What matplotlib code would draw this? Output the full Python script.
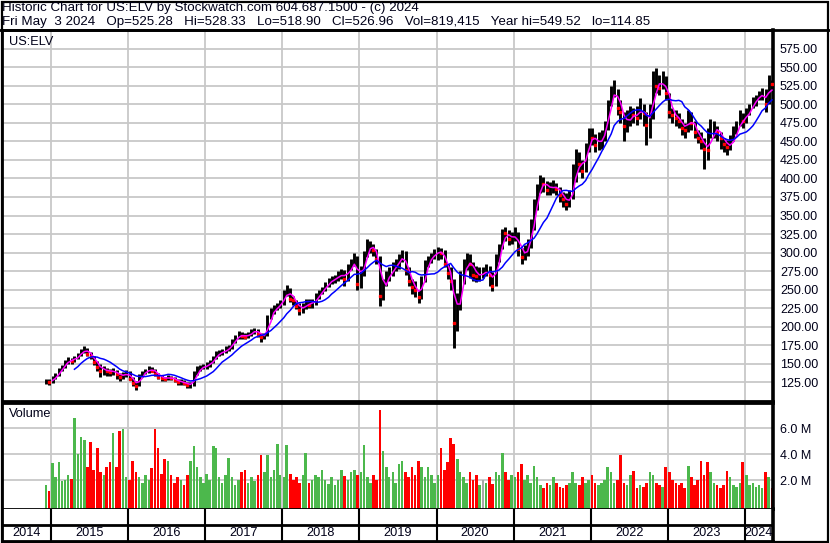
import numpy as np
import pandas as pd
import matplotlib
matplotlib.use("Agg")
import matplotlib.pyplot as plt
from matplotlib.patches import Rectangle
from matplotlib.lines import Line2D

# ---------------- data (semi-monthly) ----------------
start_date = "2014-12-01"

close_2014 = [127, 126]
high_2014 = [130, 129]
low_2014 = [123, 122]

close_2015 = [130, 136, 142, 146, 152, 157, 154, 158, 162, 168, 170, 164,
              160, 152, 146, 141, 143, 140, 139, 141, 136, 132, 136, 139]
high_2015 = [134, 138, 145, 149, 155, 159, 158, 161, 165, 170, 174, 171,
             166, 160, 154, 150, 147, 145, 143, 144, 142, 138, 139, 142]
low_2015 = [124, 129, 134, 140, 145, 150, 150, 152, 156, 161, 165, 161,
            156, 149, 140, 132, 135, 134, 134, 135, 130, 127, 129, 133]

close_2016 = [130, 124, 120, 134, 138, 140, 144, 141, 137, 132, 131, 130,
              132, 131, 128, 125, 126, 124, 121, 122, 136, 143, 145, 147]
high_2016 = [140, 132, 127, 136, 141, 143, 147, 146, 143, 138, 135, 133,
             135, 134, 133, 130, 130, 128, 126, 125, 140, 147, 149, 150]
low_2016 = [128, 120, 115, 120, 132, 136, 138, 139, 134, 129, 127, 127,
            128, 128, 126, 122, 122, 121, 118, 117, 120, 135, 141, 143]

close_2017 = [148, 152, 158, 164, 165, 166, 170, 172, 180, 186, 190, 188,
              186, 190, 194, 196, 190, 186, 188, 212, 220, 225, 228, 232]
high_2017 = [152, 155, 161, 167, 169, 170, 174, 176, 184, 189, 194, 193,
             191, 193, 197, 199, 197, 192, 192, 216, 225, 229, 232, 236]
low_2017 = [143, 146, 151, 156, 161, 162, 165, 167, 170, 178, 184, 183,
            183, 185, 188, 190, 186, 180, 183, 187, 210, 217, 222, 225]

close_2018 = [245, 250, 238, 236, 228, 222, 226, 234, 230, 232, 240, 246,
              250, 256, 262, 264, 265, 270, 272, 265, 278, 285, 290, 258]
high_2018 = [250, 256, 252, 242, 236, 232, 232, 238, 238, 237, 246, 250,
             254, 260, 266, 268, 270, 275, 278, 276, 284, 292, 300, 296]
low_2018 = [230, 242, 234, 230, 224, 216, 218, 224, 225, 226, 230, 238,
            244, 248, 254, 258, 259, 262, 264, 255, 262, 276, 282, 250]

close_2019 = [275, 298, 308, 310, 303, 292, 242, 258, 268, 272, 280, 285,
              292, 298, 276, 262, 253, 250, 240, 262, 285, 290, 296, 300]
high_2019 = [282, 302, 318, 316, 312, 305, 296, 264, 275, 280, 287, 292,
             298, 304, 302, 280, 265, 262, 250, 268, 290, 295, 300, 305]
low_2019 = [252, 268, 294, 300, 295, 285, 228, 236, 255, 262, 268, 275,
            278, 288, 270, 255, 244, 240, 232, 238, 260, 280, 286, 292]

close_2020 = [302, 300, 285, 272, 262, 205, 225, 262, 280, 292, 285, 270,
              268, 272, 272, 276, 270, 255, 290, 305, 328, 326, 318, 320]
high_2020 = [308, 306, 303, 285, 280, 265, 245, 275, 292, 300, 298, 288,
             282, 280, 280, 284, 282, 274, 298, 312, 332, 335, 330, 328]
low_2020 = [290, 292, 280, 265, 250, 172, 195, 222, 258, 276, 266, 262,
            260, 262, 266, 268, 255, 248, 255, 288, 305, 315, 310, 312]

close_2021 = [325, 305, 294, 300, 310, 335, 362, 385, 398, 392, 385, 388,
              390, 386, 378, 372, 365, 375, 395, 430, 420, 410, 440, 462]
high_2021 = [334, 328, 306, 310, 318, 345, 372, 392, 405, 402, 396, 395,
             398, 394, 388, 382, 380, 385, 420, 440, 435, 425, 448, 468]
low_2021 = [315, 295, 285, 290, 296, 306, 330, 358, 380, 382, 378, 378,
            380, 378, 368, 362, 358, 362, 372, 395, 408, 400, 408, 435]

close_2022 = [455, 445, 450, 455, 468, 500, 515, 522, 495, 490, 470, 478,
              488, 485, 482, 500, 488, 472, 485, 535, 525, 522, 535, 515]
high_2022 = [468, 460, 462, 465, 478, 505, 525, 533, 520, 505, 490, 492,
             498, 495, 498, 508, 500, 490, 500, 545, 549, 540, 545, 538]
low_2022 = [445, 435, 438, 440, 450, 465, 498, 510, 485, 475, 450, 462,
            470, 475, 472, 480, 470, 445, 455, 480, 515, 512, 520, 505]

close_2023 = [490, 485, 482, 478, 468, 465, 485, 475, 462, 455, 450, 440,
              438, 465, 470, 462, 455, 447, 442, 445, 460, 468, 482, 478]
high_2023 = [515, 495, 492, 488, 480, 475, 492, 490, 478, 465, 462, 455,
             468, 480, 478, 470, 462, 455, 452, 458, 470, 478, 492, 488]
low_2023 = [482, 475, 470, 468, 458, 455, 462, 465, 455, 448, 440, 412,
            425, 455, 455, 450, 440, 435, 432, 438, 450, 460, 470, 468]

close_2024 = [488, 495, 505, 508, 512, 515, 500, 530, 527]
high_2024 = [495, 500, 510, 513, 518, 522, 520, 540, 532]
low_2024 = [475, 485, 495, 498, 505, 505, 490, 500, 519]

# volume in millions of shares
vol_2014 = [1.6, 1.2]
vol_2015 = [3.3, 2.2, 3.4, 1.9, 2.0, 2.4, 2.1, 6.8, 4.0, 5.3, 5.1, 3.0,
            4.9, 2.8, 4.5, 2.6, 2.4, 3.0, 3.4, 5.6, 3.0, 5.8, 5.9, 2.2]
vol_2016 = [2.0, 3.5, 2.6, 2.2, 1.8, 2.4, 2.0, 2.9, 5.9, 4.5, 2.5, 3.6,
            3.5, 2.4, 1.8, 2.2, 2.0, 1.6, 2.4, 3.5, 4.6, 3.0, 2.2, 1.8]
vol_2017 = [2.5, 2.0, 4.6, 4.5, 2.2, 1.8, 2.4, 3.7, 2.2, 1.6, 2.0, 2.6,
            2.8, 1.8, 2.2, 1.9, 2.4, 3.9, 2.6, 3.9, 2.2, 2.8, 4.8, 2.4]
vol_2018 = [2.2, 4.7, 2.5, 2.0, 2.2, 1.8, 2.4, 4.1, 1.8, 2.0, 2.4, 2.2,
            2.8, 2.0, 1.7, 2.2, 1.6, 2.0, 2.8, 2.3, 2.0, 2.6, 2.8, 2.4]
vol_2019 = [2.6, 4.7, 2.2, 1.8, 2.4, 2.0, 7.4, 4.2, 3.0, 2.2, 2.6, 1.8,
            3.2, 3.5, 2.6, 2.2, 3.0, 2.4, 3.5, 3.0, 2.2, 3.0, 2.4, 1.8]
vol_2020 = [2.4, 4.5, 2.8, 3.4, 5.2, 4.8, 3.6, 2.6, 2.2, 1.8, 2.6, 2.0,
            2.4, 1.6, 2.0, 1.8, 2.2, 1.7, 2.6, 2.4, 4.1, 2.6, 2.0, 2.4]
vol_2021 = [2.2, 2.6, 3.2, 2.0, 2.4, 1.8, 3.1, 2.2, 1.6, 1.4, 1.8, 1.6,
            2.2, 1.8, 1.5, 1.4, 1.6, 1.8, 2.6, 1.8, 1.6, 2.2, 1.8, 2.0]
vol_2022 = [2.4, 1.8, 1.6, 1.8, 2.0, 3.0, 2.6, 1.8, 2.0, 3.9, 1.8, 1.6,
            2.4, 2.7, 1.4, 1.6, 1.5, 1.8, 2.6, 2.4, 1.8, 1.6, 1.5, 3.0]
vol_2023 = [2.6, 2.0, 1.8, 1.6, 1.8, 1.4, 3.1, 2.2, 1.6, 2.0, 3.5, 2.4,
            3.4, 2.6, 1.8, 1.6, 1.4, 1.6, 2.7, 2.2, 1.6, 1.5, 1.8, 3.4]
vol_2024 = [2.4, 1.6, 1.8, 1.5, 1.6, 1.4, 2.6, 2.2, 1.4]

price_ticks = [125, 150, 175, 200, 225, 250, 275, 300, 325, 350, 375, 400,
               425, 450, 475, 500, 525, 550, 575]
vol_ticks = [2, 4, 6]
year_labels = ["2014", "2015", "2016", "2017", "2018", "2019", "2020",
               "2021", "2022", "2023", "2024"]

title_line1 = "Historic Chart for US:ELV by Stockwatch.com 604.687.1500 - (c) 2024"
title_line2 = ("Fri May  3 2024   Op=525.28   Hi=528.33   Lo=518.90   Cl=526.96   "
               "Vol=819,415   Year hi=549.52   lo=114.85")

# ---------------- assemble ----------------
close = np.array(close_2014 + close_2015 + close_2016 + close_2017 + close_2018 +
                 close_2019 + close_2020 + close_2021 + close_2022 + close_2023 +
                 close_2024, dtype=float)
high = np.array(high_2014 + high_2015 + high_2016 + high_2017 + high_2018 +
                high_2019 + high_2020 + high_2021 + high_2022 + high_2023 +
                high_2024, dtype=float)
low = np.array(low_2014 + low_2015 + low_2016 + low_2017 + low_2018 +
               low_2019 + low_2020 + low_2021 + low_2022 + low_2023 +
               low_2024, dtype=float)
vol = np.array(vol_2014 + vol_2015 + vol_2016 + vol_2017 + vol_2018 +
               vol_2019 + vol_2020 + vol_2021 + vol_2022 + vol_2023 +
               vol_2024, dtype=float)

n = len(close)
dates = pd.date_range(start_date, periods=n, freq="SMS")
xdec = np.array([d.year + (d.dayofyear - 1 + 7) / 365.25 for d in dates])

s = pd.Series(close)
ma_short = s.rolling(3).mean().values
ma_long = s.rolling(10).mean().values

chg = np.diff(close, prepend=close[0] - 1)
vol_colors = np.where(chg > 0, "#4cb84c", np.where(chg < 0, "#ff0000", "#a8a8a8"))
down = chg < 0

# ---------------- figure ----------------
W, H = 830, 543
fig = plt.figure(figsize=(W / 100, H / 100), dpi=100)
fig.patch.set_facecolor("white")
plt.rcParams["font.family"] = ["Liberation Sans", "DejaVu Sans"]
TXT = "#000018"
FS = 9.2
FS_TICK = 9.0
FS_HEAD = 9.6

def fax(x0, y0, x1, y1):
    return fig.add_axes([x0 / W, 1 - y1 / H, (x1 - x0) / W, (y1 - y0) / H])

X0, X1 = 2014.364, 2024.364
grid_c = "#c8c8c8"

# price panel
ax = fax(2, 30, 773, 401)
ax.set_xlim(X0, X1)
ax.set_ylim(100, 600)
for p in price_ticks:
    ax.axhline(p, color=grid_c, lw=1.3, zorder=0)
for yr in range(2015, 2025):
    ax.axvline(yr, color=grid_c, lw=1.3, zorder=0)
ax.vlines(xdec, low, high, color="black", lw=2.1, zorder=2)
ax.plot(xdec[down], close[down], linestyle="none", marker="s", ms=1.6,
        mec="#ff0000", mfc="#ff0000", zorder=3)
ax.plot(xdec, ma_short, color="#ff00ff", lw=1.1, zorder=4)
ax.plot(xdec, ma_long, color="#0000ff", lw=1.1, zorder=5)
ax.yaxis.tick_right()
ax.set_yticks(price_ticks)
ax.set_yticklabels([f"{p:.2f}" for p in price_ticks], fontsize=FS_TICK, color=TXT)
ax.tick_params(axis="y", length=0, pad=5)
ax.set_xticks([])
for sp in ax.spines.values():
    sp.set_linewidth(2)
ax.spines["right"].set_linewidth(2.6)
ax.text(0.009, 0.968, "US:ELV", transform=ax.transAxes, fontsize=FS, color=TXT,
        va="center", ha="left")

# volume panel
axv = fax(2, 403, 773, 509)
axv.set_xlim(X0, X1)
vbot = -0.22
axv.set_ylim(vbot, 7.92)
for v in vol_ticks:
    axv.axhline(v, color=grid_c, lw=1.3, zorder=0)
for yr in range(2015, 2025):
    axv.axvline(yr, color=grid_c, lw=1.3, zorder=0)
axv.bar(xdec, vol - vbot, bottom=vbot, width=(1 / 24) * 0.8, color=vol_colors,
        linewidth=0, zorder=2)
axv.yaxis.tick_right()
axv.set_yticks(vol_ticks)
axv.set_yticklabels([f"{v:.1f} M" for v in vol_ticks], fontsize=FS_TICK, color=TXT)
axv.tick_params(axis="y", length=0, pad=5)
axv.set_xticks([])
for sp in axv.spines.values():
    sp.set_linewidth(2)
axv.spines["right"].set_linewidth(2.6)
axv.text(0.009, 0.9, "Volume", transform=axv.transAxes, fontsize=FS, color=TXT,
         va="center", ha="left")

# year strip
axy = fax(2, 509, 773, 541)
axy.set_xlim(X0, X1)
axy.set_ylim(0, 2)
axy.axhline(1, color="black", lw=2)
for yr in range(2015, 2025):
    axy.axvline(yr, color="black", lw=1.5)
bounds = [X0] + list(range(2015, 2025)) + [X1]
for i, lab in enumerate(year_labels):
    axy.text((bounds[i] + bounds[i + 1]) / 2, 0.5, lab, fontsize=FS, color=TXT,
             ha="center", va="center")
axy.set_xticks([])
axy.set_yticks([])
for sp in axy.spines.values():
    sp.set_linewidth(2)
axy.spines["right"].set_linewidth(2.6)
axy.spines["top"].set_visible(False)

# header
fig.text(2 / W, 1 - 8 / H, title_line1, fontsize=FS_HEAD, color=TXT, va="center", ha="left")
fig.text(2 / W, 1 - 22 / H, title_line2, fontsize=FS_HEAD, color=TXT, va="center", ha="left")
fig.add_artist(Line2D([0, 1], [1 - 30 / H, 1 - 30 / H], color="black", lw=2,
                      transform=fig.transFigure))
fig.add_artist(Rectangle((1.5 / W, 1.5 / H), (W - 4) / W, (H - 3) / H, fill=False,
                         edgecolor="black", lw=1.6, transform=fig.transFigure))

fig.savefig("out.png", dpi=100, facecolor="white")
